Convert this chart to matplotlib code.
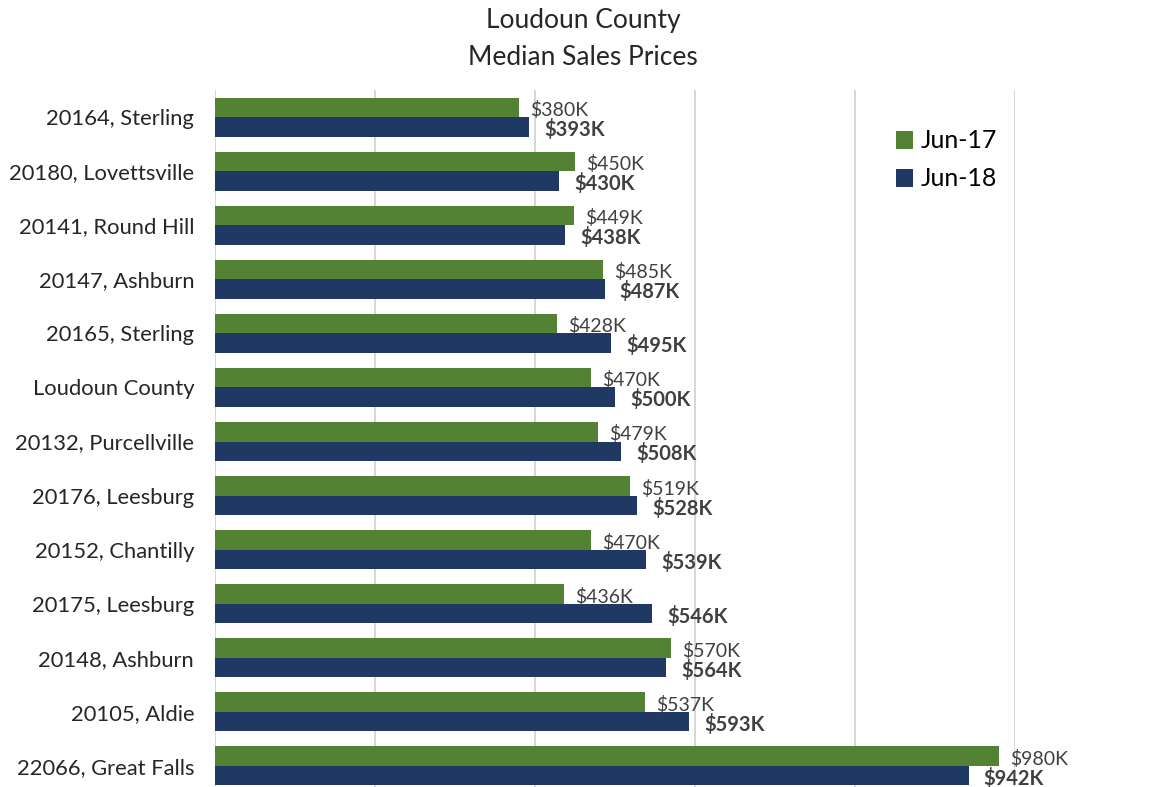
import matplotlib.pyplot as plt
import numpy as np

plt.rcParams['font.family'] = ['Lato', 'DejaVu Sans']

# Median sales prices in $K, top row first
areas = ["20164, Sterling", "20180, Lovettsville", "20141, Round Hill",
         "20147, Ashburn", "20165, Sterling", "Loudoun County",
         "20132, Purcellville", "20176, Leesburg", "20152, Chantilly",
         "20175, Leesburg", "20148, Ashburn", "20105, Aldie",
         "22066, Great Falls"]
jun_17 = [380, 450, 449, 485, 428, 470, 479, 519, 470, 436, 570, 537, 980]
jun_18 = [393, 430, 438, 487, 495, 500, 508, 528, 539, 546, 564, 593, 942]

green = '#548235'
navy = '#1f3864'
text_gray = '#404040'

fig = plt.figure(figsize=(11.72, 7.87), dpi=100)
ax = fig.add_axes([215 / 1172, -6 / 787, 800 / 1172, 703 / 787])

y = np.arange(len(areas))
h = 0.36
ax.barh(y - h / 2, jun_17, height=h, color=green, label='Jun-17', zorder=3)
ax.barh(y + h / 2, jun_18, height=h, color=navy, label='Jun-18', zorder=3)

for i in range(len(areas)):
    ax.text(jun_17[i] + 14, y[i] - h / 2 + 0.05, f"${jun_17[i]}K", va='center',
            ha='left', fontsize=14, color=text_gray, clip_on=False, zorder=4)
    ax.text(jun_18[i] + 19, y[i] + h / 2 + 0.05, f"${jun_18[i]}K", va='center',
            ha='left', fontsize=14.5, color=text_gray, fontweight='bold',
            clip_on=False, zorder=4)

ax.set_xlim(0, 1000)
ax.set_ylim(len(areas) - 0.5, -0.5)
ax.set_xticks(range(0, 1001, 200))
ax.set_xticklabels([])
ax.tick_params(axis='x', length=0)
ax.tick_params(axis='y', length=0, pad=15, labelsize=15.8, labelcolor='#262626')
ax.set_yticks(y)
ax.set_yticklabels(areas)
ax.grid(axis='x', color='#d0d0d0', linewidth=1.2, zorder=0)
for side in ax.spines.values():
    side.set_visible(False)

fig.text(583 / 1172, 1 - 39 / 787, "Loudoun County\nMedian Sales Prices",
         ha='center', va='center', fontsize=19, color='#262626', linespacing=1.6)

fig.legend(loc='upper left', bbox_to_anchor=(873 / 1172, 1 - 107 / 787),
           frameon=False, fontsize=18, handlelength=0.7, handleheight=0.7,
           handletextpad=0.3, labelspacing=0.6)

fig.savefig('out.png', dpi=100)
